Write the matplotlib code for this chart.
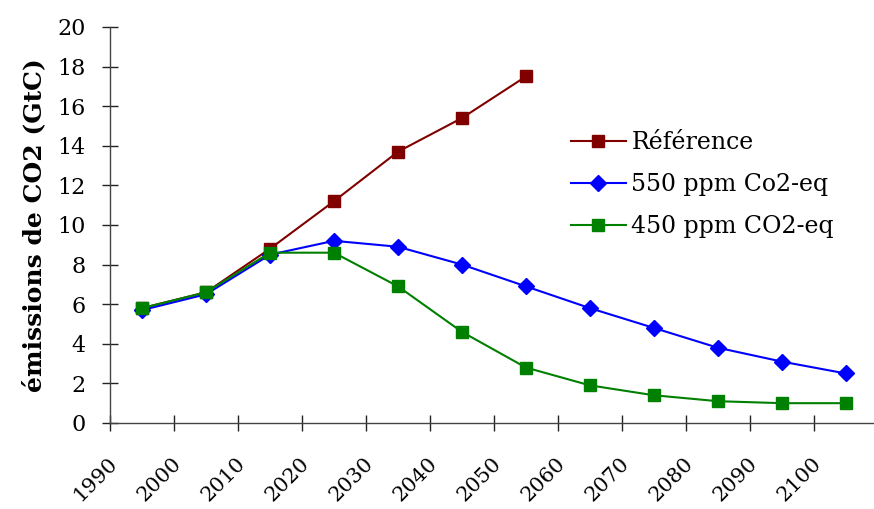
import numpy as np
import matplotlib
matplotlib.use("Agg")
import matplotlib.pyplot as plt
import matplotlib.transforms as mtransforms

plt.rcParams['font.family'] = ['DejaVu Serif']

years_ref = [1995, 2005, 2015, 2025, 2035, 2045, 2055]
reference = [5.8, 6.6, 8.8, 11.2, 13.7, 15.4, 17.5]

years_all = [1995, 2005, 2015, 2025, 2035, 2045, 2055, 2065, 2075, 2085, 2095, 2105]
ppm550 = [5.7, 6.5, 8.5, 9.2, 8.9, 8.0, 6.9, 5.8, 4.8, 3.8, 3.1, 2.5]
ppm450 = [5.8, 6.6, 8.6, 8.6, 6.9, 4.6, 2.8, 1.9, 1.4, 1.1, 1.0, 1.0]

tick_years = list(range(1990, 2101, 10))

fig = plt.figure(figsize=(8.74, 5.09), dpi=100)
ax = fig.add_axes([0.1259, 0.169, 0.8741, 0.778])

ax.plot(years_ref, reference, color='#800000', marker='s', markersize=9,
        linewidth=1.5, label='Référence')
ax.plot(years_all, ppm550, color='#0000FF', marker='D', markersize=8,
        linewidth=1.5, label='550 ppm Co2-eq')
ax.plot(years_all, ppm450, color='#008000', marker='s', markersize=9,
        linewidth=1.5, label='450 ppm CO2-eq')

ax.set_xlim(1990, 2109.4)
ax.set_ylim(0, 20)
ax.set_yticks(np.arange(0, 21, 2))
ax.set_xticks(tick_years)

ax.tick_params(direction='inout', length=11, width=1, colors='#222222',
               labelcolor='black')
ax.tick_params(axis='y', pad=12, labelsize=16)
ax.tick_params(axis='x', pad=12)

ax.set_xticklabels([str(y) for y in tick_years], rotation=45, ha='right',
                   fontsize=15)
# shift the rotated year labels so their upper-right end sits past the tick
offset = mtransforms.ScaledTranslation(11 / 100, -6 / 100, fig.dpi_scale_trans)
for lbl in ax.get_xticklabels():
    lbl.set_transform(lbl.get_transform() + offset)

for s in ['top', 'right']:
    ax.spines[s].set_visible(False)
for s in ['left', 'bottom']:
    ax.spines[s].set_color('#444444')
    ax.spines[s].set_linewidth(1)

ax.set_ylabel('émissions de CO2 (GtC)', fontsize=18, fontweight='bold', labelpad=8)

ax.legend(loc='upper left', bbox_to_anchor=(0.575, 0.79), frameon=False,
          fontsize=17, handlelength=2.33, handletextpad=0.25, labelspacing=0.8)

fig.savefig('out.png', dpi=100)
